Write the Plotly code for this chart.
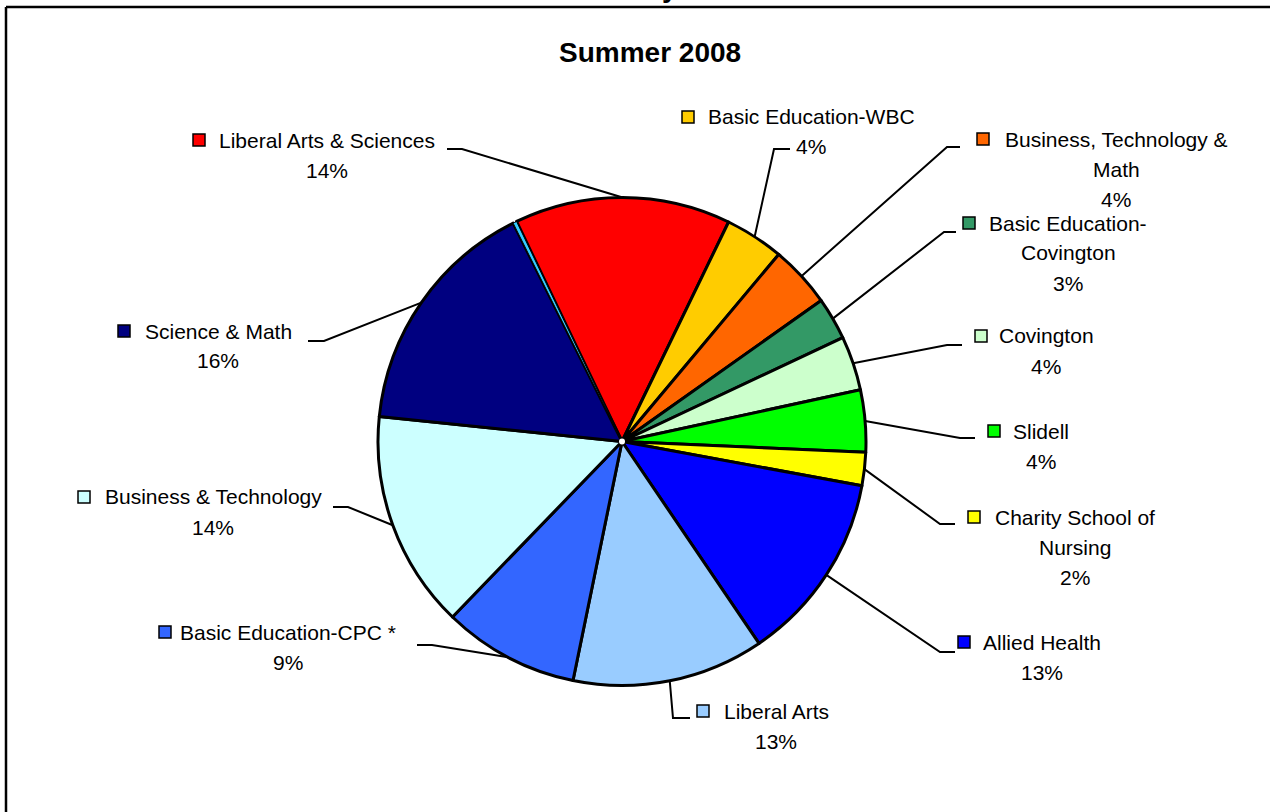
import math
import plotly.graph_objects as go

W, H = 1270, 812

# slice data (percent of enrollment), clockwise from Liberal Arts & Sciences
divisions = [
    "Liberal Arts & Sciences", "Basic Education-WBC", "Business, Technology & Math",
    "Basic Education-Covington", "Covington", "Slidell", "Charity School of Nursing",
    "Allied Health", "Liberal Arts", "Basic Education-CPC *", "Business & Technology",
    "Science & Math", "Other",
]
shares = [14.3, 3.9, 4.1, 2.8, 3.6, 4.1, 2.2, 12.6, 12.7, 9.0, 14.4, 16.0, 0.25]
colors = [
    "#FF0000", "#FFCC00", "#FF6600", "#339966", "#CCFFCC", "#00FF00", "#FFFF00",
    "#0000FF", "#99CCFF", "#3366FF", "#CCFFFF", "#000080", "#33CCFF",
]
# how Excel wrapped each label
label_lines = [
    ["Liberal Arts & Sciences"], ["Basic Education-WBC"], ["Business, Technology &", "Math"],
    ["Basic Education-", "Covington"], ["Covington"], ["Slidell"], ["Charity School of", "Nursing"],
    ["Allied Health"], ["Liberal Arts"], ["Basic Education-CPC *"], ["Business & Technology"],
    ["Science & Math"], None,
]

# layout: pixel positions of labels (text centre x, first line y, key x) and leader elbows
label_pos = [
    (327, 140, 199), (811, 117, 688), (1116, 139, 983), (1068, 223, 969), (1046, 336, 981),
    (1041, 431, 994), (1075, 517, 974), (1042, 642, 964), (776, 711, 703), (288, 632, 165),
    (213, 497, 84), (218, 331, 124), None,
]
leader = [
    ((447, 149), (462, 149)), ((790, 149), (774, 149)), ((960, 147), (947, 147)),
    ((956, 232), (944, 232)), ((962, 345), (947, 345)), ((975, 438), (960, 438)),
    ((955, 524), (940, 524)), ((955, 652), (940, 652)), ((690, 718), (673, 718)),
    ((417, 645), (432, 645)), ((333, 507), (348, 507)), ((308, 341), (324, 341)), None,
]

CX, CY, R = 622, 441.5, 244
ROT = -25.6
FONT = "Liberation Sans, Arial, sans-serif"


def px(x):
    return x / W


def py(y):
    return 1 - y / H


# the hair-thin slice keeps a thinner outline so its colour still shows
line_widths = [3] * (len(shares) - 1) + [1]

fig = go.Figure(go.Pie(
    labels=divisions,
    values=shares,
    sort=False,
    direction="clockwise",
    rotation=ROT,
    textinfo="none",
    hoverinfo="label+percent",
    marker=dict(colors=colors, line=dict(color="black", width=line_widths)),
    domain=dict(x=[px(CX - R), px(CX + R)], y=[py(CY + R), py(CY - R)]),
    showlegend=False,
))

total = sum(shares)
shapes = []
annotations = []
cum = 0
for i, name in enumerate(divisions):
    mid = ROT + (cum + shares[i] / 2) / total * 360
    cum += shares[i]
    if label_lines[i] is None:
        continue
    a = math.radians(mid)
    ex, ey = CX + R * math.sin(a), CY - R * math.cos(a)
    (x0, y0), (x1, y1) = leader[i]
    shapes.append(dict(type="path", xref="paper", yref="paper",
                       path=f"M{px(x0)},{py(y0)} L{px(x1)},{py(y1)} L{px(ex)},{py(ey)}",
                       line=dict(color="black", width=2)))
    tx, ty, kx = label_pos[i]
    shapes.append(dict(type="rect", xref="paper", yref="paper",
                       x0=px(kx - 6), x1=px(kx + 6), y0=py(ty + 6), y1=py(ty - 6),
                       fillcolor=colors[i], line=dict(color="black", width=1.5)))
    lines = label_lines[i] + [f"{round(shares[i] / total * 100)}%"]
    for j, t in enumerate(lines):
        annotations.append(dict(text=t, x=px(tx), y=py(ty + 30 * j), xref="paper", yref="paper",
                                showarrow=False, xanchor="center", yanchor="middle",
                                font=dict(family=FONT, size=21, color="black")))

# white dot in the centre
shapes.append(dict(type="circle", xref="paper", yref="paper",
                   x0=px(CX - 3), x1=px(CX + 3), y0=py(CY + 3), y1=py(CY - 3),
                   fillcolor="white", line=dict(width=0)))

# chart-area frame (top and left edges visible)
shapes.append(dict(type="line", xref="paper", yref="paper", x0=px(6), x1=1, y0=py(7), y1=py(7),
                   line=dict(color="black", width=2.5)))
shapes.append(dict(type="line", xref="paper", yref="paper", x0=px(6), x1=px(6), y0=py(7), y1=0,
                   line=dict(color="black", width=2.5)))

annotations.append(dict(text="<b>Summer 2008</b>", x=px(650), y=py(52), xref="paper", yref="paper",
                        showarrow=False, xanchor="center", yanchor="middle",
                        font=dict(family=FONT, size=28, color="black")))
# tail of the outer title, cut off at the top of the picture
annotations.append(dict(text="<b>y</b>", x=px(670), y=py(-12), xref="paper", yref="paper",
                        showarrow=False, xanchor="center", yanchor="middle",
                        font=dict(family=FONT, size=28, color="black")))

fig.update_layout(
    width=W, height=H,
    margin=dict(l=0, r=0, t=0, b=0),
    paper_bgcolor="white",
    plot_bgcolor="white",
    shapes=shapes,
    annotations=annotations,
)

fig.write_html("out.html", config={"displayModeBar": False},
               post_script="document.body.style.margin='0';")
